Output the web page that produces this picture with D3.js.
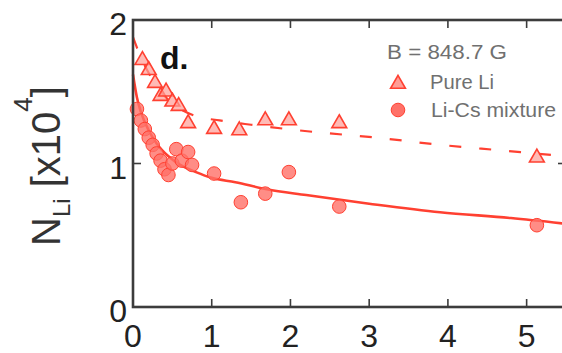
<!DOCTYPE html>
<html>
<head>
<meta charset="utf-8">
<script src="https://cdn.jsdelivr.net/npm/d3@7"></script>
<style>
  html, body { margin: 0; padding: 0; background: #fff; }
  svg { display: block; font-family: "Liberation Sans", Arial, sans-serif; }
</style>
</head>
<body>
<svg id="chart" width="562" height="353"></svg>
<script>
// Tick values on each axis
const xTicks = [0, 1, 2, 3, 4, 5];
const yTicks = [0, 1, 2];

// Pure Li atom number (x10^4) versus hold time
const pureLiT = [0.12, 0.20, 0.28, 0.35, 0.42, 0.50, 0.58, 0.70, 1.03, 1.35, 1.68, 1.98, 2.62, 5.13];
const pureLiN = [1.72, 1.65, 1.56, 1.47, 1.50, 1.43, 1.40, 1.28, 1.24, 1.23, 1.30, 1.30, 1.28, 1.04];

// Li atom number in the Li-Cs mixture
const mixT = [0.05, 0.10, 0.15, 0.20, 0.25, 0.30, 0.35, 0.40, 0.45, 0.50, 0.55, 0.62, 0.70, 0.75, 1.03, 1.37, 1.68, 1.98, 2.62, 5.13];
const mixN = [1.38, 1.30, 1.24, 1.18, 1.13, 1.07, 1.02, 0.96, 0.92, 1.00, 1.10, 1.02, 1.08, 0.99, 0.93, 0.73, 0.79, 0.94, 0.70, 0.57];

// Fitted decay curves
const pureFitT = [0, 0.1, 0.2, 0.3, 0.4, 0.5, 0.6, 0.8, 1.1, 1.5, 2.3, 3.1, 3.9, 4.7, 5.5];
const pureFitN = [1.88, 1.74, 1.63, 1.54, 1.47, 1.42, 1.38, 1.33, 1.30, 1.27, 1.22, 1.18, 1.13, 1.09, 1.05];
const mixFitT = [0, 0.05, 0.1, 0.2, 0.3, 0.45, 0.6, 0.8, 1.0, 1.3, 1.7, 2.2, 3.0, 3.9, 4.8, 5.5];
const mixFitN = [1.62, 1.46, 1.36, 1.23, 1.14, 1.05, 0.99, 0.94, 0.90, 0.87, 0.82, 0.78, 0.72, 0.66, 0.62, 0.58];

const RED = "#ff4031";
const AXIS = "#3c3c3c";

const svg = d3.select("#chart");
const plotL = 133, plotR = 566, plotT = 20, plotB = 307;

const x = d3.scaleLinear().domain([0, 5.5]).range([plotL, plotR]);
const y = d3.scaleLinear().domain([0, 2]).range([plotB, plotT]);

// Fit curves
const line = d3.line().x(d => x(d[0])).y(d => y(d[1])).curve(d3.curveMonotoneX);
svg.append("path")
  .datum(d3.zip(pureFitT, pureFitN))
  .attr("d", line)
  .attr("fill", "none")
  .attr("stroke", RED)
  .attr("stroke-width", 2.2)
  .attr("stroke-dasharray", "12,18");
svg.append("path")
  .datum(d3.zip(mixFitT, mixFitN))
  .attr("d", line)
  .attr("fill", "none")
  .attr("stroke", RED)
  .attr("stroke-width", 2.6);

// Data markers
const tri = d3.symbol().type(d3.symbolTriangle).size(95);
svg.append("g").selectAll("path")
  .data(d3.zip(pureLiT, pureLiN))
  .join("path")
  .attr("d", tri)
  .attr("transform", d => `translate(${x(d[0])},${y(d[1])})`)
  .attr("fill", "#ff9d96")
  .attr("fill-opacity", 0.7)
  .attr("stroke", RED)
  .attr("stroke-width", 1.6);

svg.append("g").selectAll("circle")
  .data(d3.zip(mixT, mixN))
  .join("circle")
  .attr("cx", d => x(d[0]))
  .attr("cy", d => y(d[1]))
  .attr("r", 6.8)
  .attr("fill", "#ff7168")
  .attr("fill-opacity", 0.8)
  .attr("stroke", RED)
  .attr("stroke-width", 1);

// Frame with inward ticks on all four sides
const frame = svg.append("g");
frame.append("rect")
  .attr("x", plotL).attr("y", plotT)
  .attr("width", plotR - plotL).attr("height", plotB - plotT)
  .attr("fill", "none").attr("stroke", AXIS).attr("stroke-width", 2.6);

const tickLen = 8;
frame.selectAll(".xb").data(xTicks.slice(1)).join("line")
  .attr("x1", d => x(d)).attr("x2", d => x(d))
  .attr("y1", plotB).attr("y2", plotB - tickLen)
  .attr("stroke", AXIS).attr("stroke-width", 1.6);
frame.selectAll(".xt").data(xTicks.slice(1)).join("line")
  .attr("x1", d => x(d)).attr("x2", d => x(d))
  .attr("y1", plotT).attr("y2", plotT + tickLen)
  .attr("stroke", AXIS).attr("stroke-width", 1.6);
frame.selectAll(".yl").data([1]).join("line")
  .attr("x1", plotL).attr("x2", plotL + tickLen)
  .attr("y1", d => y(d)).attr("y2", d => y(d))
  .attr("stroke", AXIS).attr("stroke-width", 1.6);
frame.selectAll(".yr").data([1]).join("line")
  .attr("x1", plotR).attr("x2", plotR - tickLen)
  .attr("y1", d => y(d)).attr("y2", d => y(d))
  .attr("stroke", AXIS).attr("stroke-width", 1.6);

// Tick labels
svg.append("g").selectAll("text").data(xTicks).join("text")
  .attr("x", d => x(d)).attr("y", 347)
  .attr("text-anchor", "middle")
  .attr("font-size", 32).attr("fill", "#222")
  .text(d => d);
svg.append("g").selectAll("text").data(yTicks).join("text")
  .attr("x", 127).attr("y", d => y(d) + 15)
  .attr("text-anchor", "end")
  .attr("font-size", 32).attr("fill", "#222")
  .text(d => d);

// Y axis title
const yt = svg.append("text")
  .attr("transform", "translate(60,166) rotate(-90)")
  .attr("text-anchor", "middle")
  .attr("font-size", 40).attr("fill", "#333");
yt.append("tspan").text("N");
yt.append("tspan").attr("font-size", 24).attr("dy", 10).text("Li");
yt.append("tspan").attr("dy", -10).text(" [x10");
yt.append("tspan").attr("font-size", 26).attr("dy", -28).text("4");
yt.append("tspan").attr("dy", 28).text("]");

// Panel letter
svg.append("text")
  .attr("x", 160).attr("y", 69)
  .attr("font-size", 32).attr("font-weight", "bold").attr("fill", "#111")
  .text("d.");

// Legend
const legend = svg.append("g").attr("fill", "#707070").attr("font-size", 20)
  .attr("lengthAdjust", "spacingAndGlyphs");
legend.append("text").attr("x", 387).attr("y", 59)
  .attr("textLength", 120).attr("lengthAdjust", "spacingAndGlyphs").text("B = 848.7 G");
legend.append("path").attr("d", tri)
  .attr("transform", "translate(398,84)")
  .attr("fill", "#ff9d96").attr("stroke", RED).attr("stroke-width", 1.6);
legend.append("text").attr("x", 430).attr("y", 89)
  .attr("textLength", 64).attr("lengthAdjust", "spacingAndGlyphs").text("Pure Li");
legend.append("circle").attr("cx", 398).attr("cy", 110).attr("r", 6.8)
  .attr("fill", "#ff7168").attr("stroke", RED).attr("stroke-width", 1);
legend.append("text").attr("x", 431).attr("y", 117)
  .attr("textLength", 125).attr("lengthAdjust", "spacingAndGlyphs").text("Li-Cs mixture");
</script>
</body>
</html>
